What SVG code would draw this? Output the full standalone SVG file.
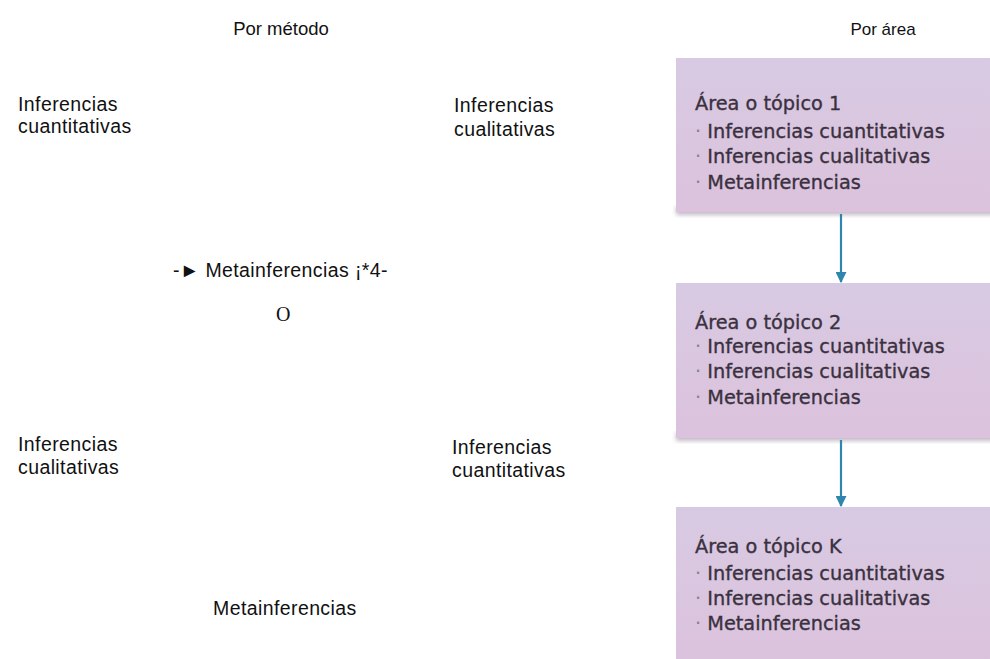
<svg xmlns="http://www.w3.org/2000/svg" width="990" height="659" viewBox="0 0 990 659">
<defs>
<style>
.t{font-family:"Liberation Sans",Arial,sans-serif;font-size:19.5px;letter-spacing:0.4px;fill:#111}
.h{font-family:"Liberation Sans",Arial,sans-serif;font-size:18.5px;fill:#111}
.s{font-family:"Liberation Serif","Times New Roman",serif;font-size:20px;fill:#111}
.bx{font-family:"DejaVu Sans","Noto Sans",sans-serif;font-size:19.3px;fill:#3a3140;stroke:#3a3140;stroke-width:0.35}
.bl{fill:#8a7f90;stroke:none}
.box{fill:url(#g)}
.sh{fill:#9d8fa3;opacity:0.6}
.c{stroke:#2f86ad;stroke-width:2.2;fill:none}
</style>
<linearGradient id="g" x1="0" y1="0" x2="0" y2="1">
<stop offset="0" stop-color="#d8cae3"/>
<stop offset="1" stop-color="#dcc2dc"/>
</linearGradient>
<filter id="bl" x="-0.1" y="-0.1" width="1.2" height="1.4"><feGaussianBlur stdDeviation="2"/></filter>
<marker id="ah" viewBox="0 0 10 10" refX="9" refY="5" markerWidth="5" markerHeight="5" orient="auto" markerUnits="strokeWidth">
<path d="M0,0 L10,5 L0,10 z" fill="#2f86ad"/>
</marker>
</defs>
<rect width="990" height="659" fill="#fff"/>

<g id="left">
<text class="h" x="281" y="35" text-anchor="middle">Por método</text>
<g id="n-cuant-top"><text class="t" x="18" y="111">Inferencias</text><text class="t" x="18" y="133">cuantitativas</text></g>
<g id="n-cual-top"><text class="t" x="454" y="112">Inferencias</text><text class="t" x="454" y="136">cualitativas</text></g>
<g id="n-meta-mid"><text class="t" x="173" y="277">-► Metainferencias ¡*4-</text></g>
<g id="n-o"><text class="s" x="276" y="321">O</text></g>
<g id="n-cual-bot"><text class="t" x="18" y="451">Inferencias</text><text class="t" x="18" y="474">cualitativas</text></g>
<g id="n-cuant-bot"><text class="t" x="452" y="454">Inferencias</text><text class="t" x="452" y="477">cuantitativas</text></g>
<g id="n-meta-bot"><text class="t" x="213" y="615">Metainferencias</text></g>
</g>

<text class="h" x="883" y="35" text-anchor="middle" style="font-size:17px">Por área</text>

<g id="area1">
<rect class="sh" x="676" y="206" width="320" height="9" filter="url(#bl)"/>
<rect class="box" x="676" y="58" width="320" height="154"/>
<text class="bx" x="695" y="110">Área o tópico 1</text>
<text class="bx" x="695" y="138"><tspan class="bl">·</tspan> Inferencias cuantitativas</text>
<text class="bx" x="695" y="163"><tspan class="bl">·</tspan> Inferencias cualitativas</text>
<text class="bx" x="695" y="189"><tspan class="bl">·</tspan> Metainferencias</text>
</g>
<g id="area2">
<rect class="sh" x="676" y="432" width="320" height="9" filter="url(#bl)"/>
<rect class="box" x="676" y="283" width="320" height="155"/>
<text class="bx" x="695" y="329">Área o tópico 2</text>
<text class="bx" x="695" y="353"><tspan class="bl">·</tspan> Inferencias cuantitativas</text>
<text class="bx" x="695" y="378"><tspan class="bl">·</tspan> Inferencias cualitativas</text>
<text class="bx" x="695" y="404"><tspan class="bl">·</tspan> Metainferencias</text>
</g>
<g id="areaK">
<rect class="box" x="676" y="507" width="320" height="160"/>
<text class="bx" x="695" y="553">Área o tópico K</text>
<text class="bx" x="695" y="580"><tspan class="bl">·</tspan> Inferencias cuantitativas</text>
<text class="bx" x="695" y="605"><tspan class="bl">·</tspan> Inferencias cualitativas</text>
<text class="bx" x="695" y="630"><tspan class="bl">·</tspan> Metainferencias</text>
</g>

<g id="connectors">
<line class="c" x1="841" y1="214" x2="841" y2="282" marker-end="url(#ah)"/>
<line class="c" x1="841" y1="440" x2="841" y2="506" marker-end="url(#ah)"/>
</g>
</svg>
